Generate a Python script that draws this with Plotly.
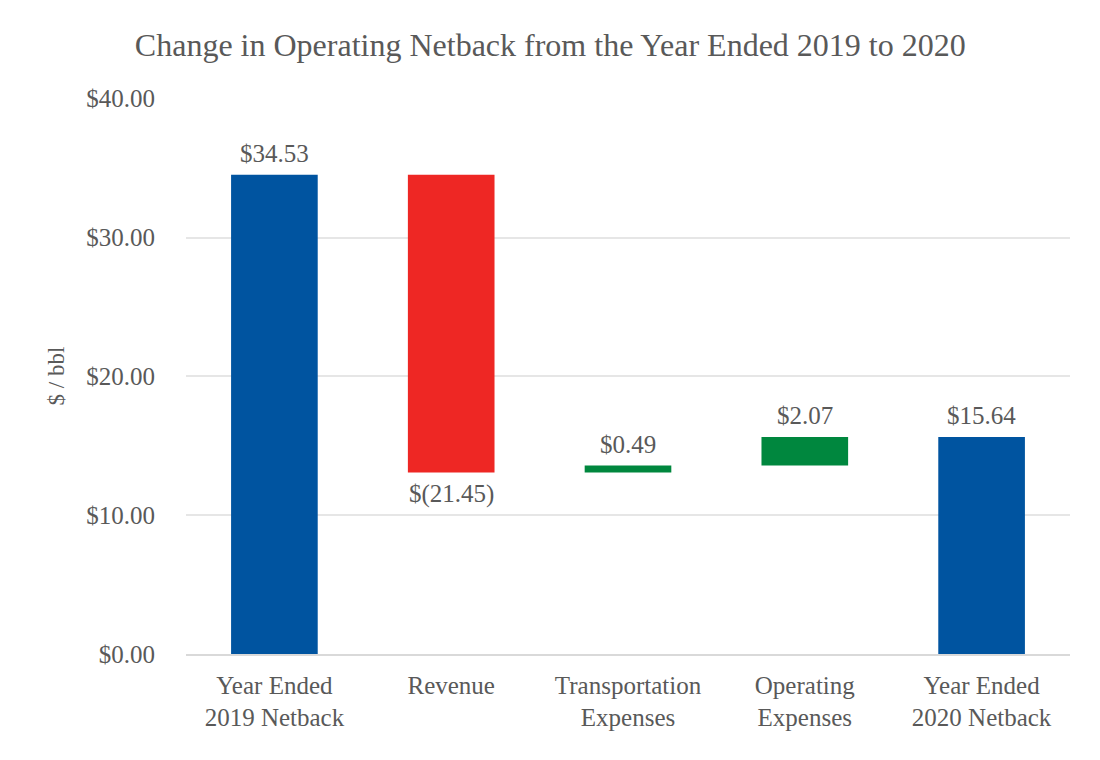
import plotly.graph_objects as go

categories = ["Year Ended<br>2019 Netback", "Revenue", "Transportation<br>Expenses",
              "Operating<br>Expenses", "Year Ended<br>2020 Netback"]
values = [34.53, -21.45, 0.49, 2.07, 15.64]
measures = ["absolute", "relative", "relative", "relative", "total"]
labels = ["$34.53", "$(21.45)", "$0.49", "$2.07", "$15.64"]

font_family = "Liberation Serif, Times New Roman, serif"
gray = "#595959"

fig = go.Figure(go.Waterfall(
    x=categories,
    y=values,
    measure=measures,
    increasing=dict(marker=dict(color="#00873E")),
    decreasing=dict(marker=dict(color="#EE2724")),
    totals=dict(marker=dict(color="#0054A0")),
    connector=dict(visible=False),
    width=0.49,
    hoverinfo="skip",
))

# data labels placed at the end of each bar
running = 0.0
for cat, val, meas, lab in zip(categories, values, measures, labels):
    if meas == "absolute":
        running = val
    elif meas == "relative":
        running += val
    end = running
    below = meas == "relative" and val < 0
    fig.add_annotation(
        x=cat, y=end, text=lab, showarrow=False,
        yanchor="top" if below else "bottom",
        yshift=-6 if below else 6,
        font=dict(family=font_family, size=25, color=gray),
    )

fig.update_layout(
    width=1100, height=760,
    paper_bgcolor="white", plot_bgcolor="white",
    margin=dict(l=178, r=38, t=90, b=114),
    title=dict(text="Change in Operating Netback from the Year Ended 2019 to 2020",
               x=0.493, xanchor="center", y=0.952, yanchor="middle",
               font=dict(family=font_family, size=32, color=gray)),
    font=dict(family=font_family, color=gray),
    showlegend=False,
    yaxis=dict(range=[0, 40.05], tickvals=[0, 10, 20, 30, 40], tickformat="$.2f",
               tickfont=dict(size=25, color=gray),
               gridcolor="#E6E6E6", gridwidth=1.5, zeroline=False,
               showline=False, ticks="", ticklen=0, ticklabelstandoff=30,
               title=dict(text="$ / bbl", font=dict(size=23, color=gray), standoff=15)),
    xaxis=dict(tickfont=dict(size=25, color=gray), showline=True,
               linecolor="#D9D9D9", linewidth=1.5, ticks="", ticklabelstandoff=8),
)

fig.write_html("out.html")
